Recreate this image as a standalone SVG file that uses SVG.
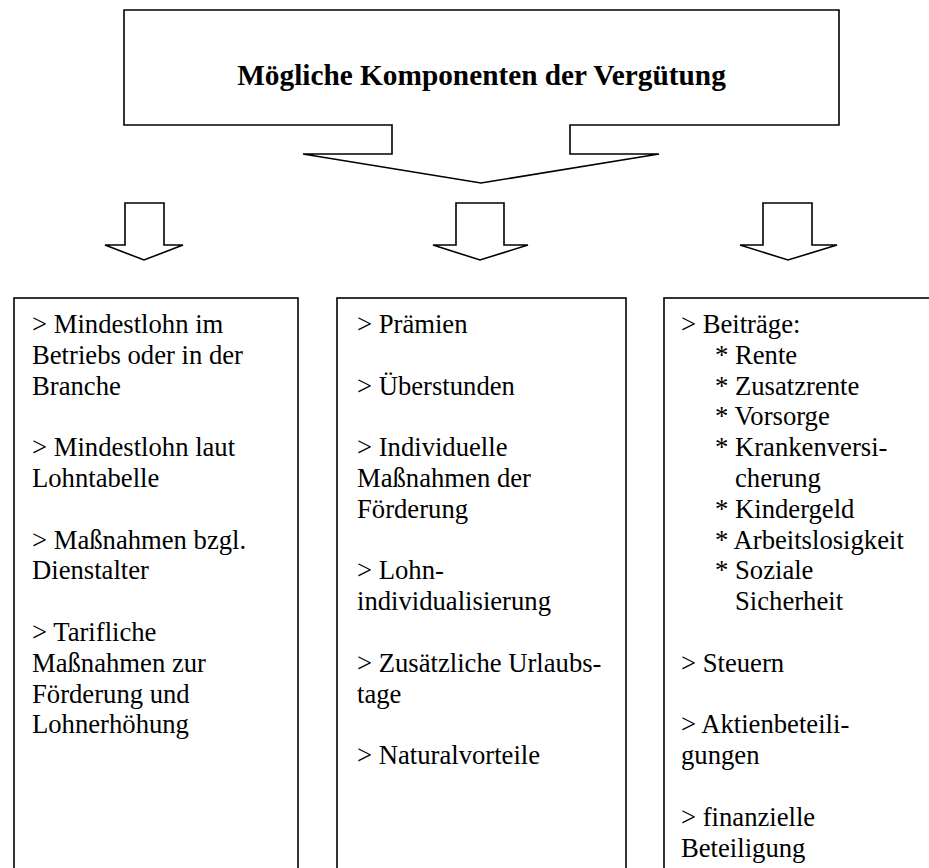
<svg xmlns="http://www.w3.org/2000/svg" width="929" height="868" viewBox="0 0 929 868">
<style>
  .shape { fill: #ffffff; stroke: #000000; stroke-width: 1.6; stroke-linejoin: miter; }
  .title { font-family: "Liberation Serif", "Times New Roman", serif; font-size: 29.3px; font-weight: bold; fill: #000; }
  .t { font-family: "Liberation Serif", "Times New Roman", serif; font-size: 26.67px; fill: #000; }
</style>
<rect width="929" height="868" fill="#ffffff"/>
<g id="title-node">
  <polygon class="shape" points="124,10 839,10 839,125 570,125 570,154 659,154 481,183 303,154 392,154 392,125 124,125"/>
  <text class="title" x="481.5" y="85" text-anchor="middle">Mögliche Komponenten der Vergütung</text>
</g>
<g id="connectors">
  <polygon class="shape" points="125,203 164,203 164,245 183,245 144,260 105,245 125,245"/>
  <polygon class="shape" points="456,203 504,203 504,245 528,245 480,260 433,245 456,245"/>
  <polygon class="shape" points="763,203 812,203 812,245 837,245 788,260 740,245 763,245"/>
</g>
<g id="box-left">
  <rect class="shape" x="14" y="298" width="284" height="590"/>
  <text class="t" x="32" y="333">&gt; Mindestlohn im</text>
  <text class="t" x="32" y="363.8">Betriebs oder in der</text>
  <text class="t" x="32" y="394.6">Branche</text>
  <text class="t" x="32" y="456.2">&gt; Mindestlohn laut</text>
  <text class="t" x="32" y="487">Lohntabelle</text>
  <text class="t" x="32" y="548.6">&gt; Maßnahmen bzgl.</text>
  <text class="t" x="32" y="579.4">Dienstalter</text>
  <text class="t" x="32" y="641">&gt; Tarifliche</text>
  <text class="t" x="32" y="671.8">Maßnahmen zur</text>
  <text class="t" x="32" y="702.6">Förderung und</text>
  <text class="t" x="32" y="733.4">Lohnerhöhung</text>
</g>
<g id="box-middle">
  <rect class="shape" x="337" y="298" width="289" height="590"/>
  <text class="t" x="357" y="333">&gt; Prämien</text>
  <text class="t" x="357" y="394.6">&gt; Überstunden</text>
  <text class="t" x="357" y="456.2">&gt; Individuelle</text>
  <text class="t" x="357" y="487">Maßnahmen der</text>
  <text class="t" x="357" y="517.8">Förderung</text>
  <text class="t" x="357" y="579.4">&gt; Lohn-</text>
  <text class="t" x="357" y="610.2">individualisierung</text>
  <text class="t" x="357" y="671.8">&gt; Zusätzliche Urlaubs-</text>
  <text class="t" x="357" y="702.6">tage</text>
  <text class="t" x="357" y="764.2">&gt; Naturalvorteile</text>
</g>
<g id="box-right">
  <rect class="shape" x="664" y="298" width="290" height="590"/>
  <text class="t" x="681" y="333">&gt; Beiträge:</text>
  <text class="t" x="715" y="363.8">* Rente</text>
  <text class="t" x="715" y="394.6">* Zusatzrente</text>
  <text class="t" x="715" y="425.4">* Vorsorge</text>
  <text class="t" x="715" y="456.2">* Krankenversi-</text>
  <text class="t" x="735" y="487">cherung</text>
  <text class="t" x="715" y="517.8">* Kindergeld</text>
  <text class="t" x="715" y="548.6">* Arbeitslosigkeit</text>
  <text class="t" x="715" y="579.4">* Soziale</text>
  <text class="t" x="735" y="610.2">Sicherheit</text>
  <text class="t" x="681" y="671.8">&gt; Steuern</text>
  <text class="t" x="681" y="733.4">&gt; Aktienbeteili-</text>
  <text class="t" x="681" y="764.2">gungen</text>
  <text class="t" x="681" y="825.8">&gt; finanzielle</text>
  <text class="t" x="681" y="856.6">Beteiligung</text>
</g>
</svg>
